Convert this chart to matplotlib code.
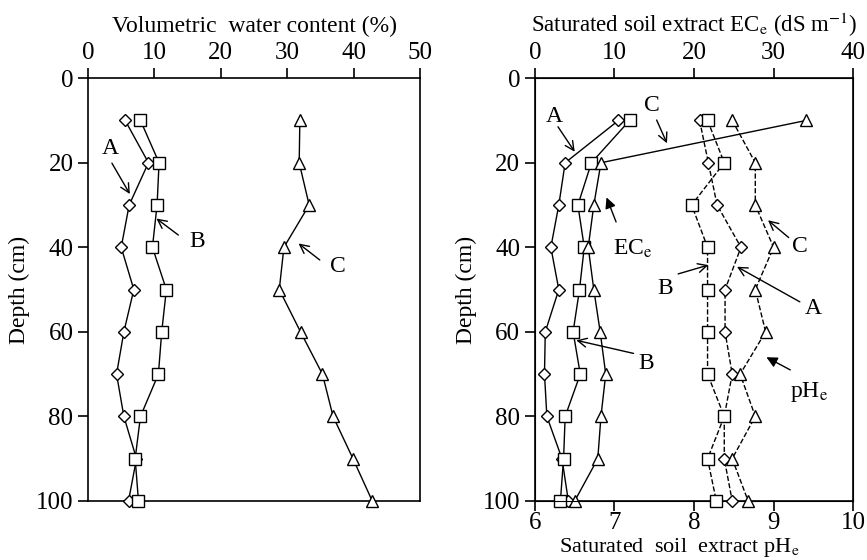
import matplotlib
matplotlib.use('Agg')
import matplotlib.pyplot as plt

plt.rcParams['font.family'] = ['Liberation Serif', 'DejaVu Serif']
plt.rcParams['mathtext.fontset'] = 'stix'
plt.rcParams['font.size'] = 17

depth = [10, 20, 30, 40, 50, 60, 70, 80, 90, 100]

# volumetric water content (%)
vwc_a = [5.6, 9.1, 6.2, 5.0, 6.9, 5.4, 4.3, 5.4, 7.3, 6.1]
vwc_b = [7.9, 10.7, 10.4, 9.7, 11.8, 11.1, 10.6, 7.9, 7.1, 7.6]
vwc_c = [31.9, 31.8, 33.3, 29.5, 28.8, 32.0, 35.3, 36.9, 39.9, 42.8]

# saturated soil extract EC (dS/m)
ec_a = [10.5, 3.8, 3.0, 2.0, 3.0, 1.3, 1.2, 1.5, 3.4, 4.2]
ec_b = [11.9, 7.1, 5.4, 6.2, 5.6, 4.8, 5.7, 3.8, 3.6, 3.2]
ec_c = [34.1, 8.3, 7.4, 6.7, 7.4, 8.2, 8.9, 8.3, 7.9, 5.0]

# saturated soil extract pH
ph_a = [8.07, 8.18, 8.29, 8.59, 8.39, 8.39, 8.48, 8.38, 8.38, 8.48]
ph_b = [8.17, 8.38, 7.97, 8.17, 8.17, 8.17, 8.17, 8.38, 8.17, 8.28]
ph_c = [8.48, 8.77, 8.77, 9.00, 8.77, 8.90, 8.58, 8.77, 8.48, 8.68]

MK = dict(color='black', markerfacecolor='white', markeredgecolor='black',
          linewidth=1.0, markeredgewidth=1.0, clip_on=False, zorder=3)
STYLE = {'A': dict(marker='D', markersize=6.5),
         'B': dict(marker='s', markersize=8.5),
         'C': dict(marker='^', markersize=9)}
FS = 17


def profile(ax, x, key, ls='-'):
    ax.plot(x, depth, linestyle=ls, **STYLE[key], **MK)


def label(ax, text, xytext, tail, head, filled=False):
    ax.text(*xytext, text, ha='center', va='center', fontsize=FS)
    style = '-|>' if filled else '->'
    ax.annotate('', xy=head, xytext=tail,
                arrowprops=dict(arrowstyle=style, color='black', lw=1.0,
                                mutation_scale=16, shrinkA=0, shrinkB=0))


def style_axes(ax):
    for s in ax.spines.values():
        s.set_linewidth(1.2)
    ax.set_ylim(100, 0)
    ax.set_yticks([0, 20, 40, 60, 80, 100])
    ax.set_ylabel('Depth (cm)', fontsize=FS, labelpad=4)
    ax.tick_params(axis='y', direction='out', length=7, width=1.2, labelsize=18)
    ax.tick_params(axis='x', direction='out', length=7, width=1.2, labelsize=18)


fig = plt.figure(figsize=(8.67, 5.6), dpi=100)

# left panel: water content
ax1 = fig.add_axes([0.1015, 0.1054, 0.383, 0.755])
profile(ax1, vwc_a, 'A')
profile(ax1, vwc_b, 'B')
profile(ax1, vwc_c, 'C')
ax1.set_xlim(0, 50)
ax1.set_xticks([0, 10, 20, 30, 40, 50])
ax1.xaxis.set_ticks_position('top')
ax1.xaxis.set_label_position('top')
ax1.set_xlabel('Volumetric  water content (%)', fontsize=FS, labelpad=7)
style_axes(ax1)
label(ax1, 'A', (3.3, 16.7), (3.6, 20.1), (6.3, 27.4))
label(ax1, 'B', (16.4, 38.7), (13.6, 37.1), (10.3, 33.2))
label(ax1, 'C', (37.7, 44.6), (34.9, 43.0), (31.7, 39.1))

# right panel: EC (top) and pH (bottom)
ax2 = fig.add_axes([0.617, 0.1054, 0.367, 0.755])
ax3 = ax2.twiny()
profile(ax2, ec_a, 'A')
profile(ax2, ec_b, 'B')
profile(ax2, ec_c, 'C')
ax2.set_xlim(0, 40)
ax2.set_xticks([0, 10, 20, 30, 40])
ax2.xaxis.set_ticks_position('top')
ax2.xaxis.set_label_position('top')
ax2.set_xlabel(r'Saturated soil extract EC$_\mathrm{e}$ (dS m$^{\mathrm{-1}}$)',
               fontsize=16.5, labelpad=7)
style_axes(ax2)

profile(ax3, ph_a, 'A', ls='--')
profile(ax3, ph_b, 'B', ls='--')
profile(ax3, ph_c, 'C', ls='--')
ax3.set_xlim(6, 10)
ax3.set_xticks([6, 7, 8, 9, 10])
ax3.xaxis.set_ticks_position('bottom')
ax3.xaxis.set_label_position('bottom')
ax3.set_xlabel(r'Saturated  soil  extract pH$_\mathrm{e}$', fontsize=16)
ax3.xaxis.set_label_coords(0.453, -0.083)
ax3.tick_params(axis='x', direction='out', length=7, width=1.2, labelsize=18, pad=1)
ax3.set_ylim(100, 0)

label(ax2, 'A', (2.4, 9.1), (2.9, 11.5), (5.0, 17.4))
label(ax2, 'C', (14.7, 6.4), (15.3, 9.9), (16.6, 15.4))
label(ax2, r'EC$_\mathrm{e}$', (12.3, 40.3), (10.2, 34.0), (9.0, 28.2), filled=True)
label(ax2, 'C', (33.3, 39.9), (31.9, 37.7), (29.3, 33.6))
label(ax2, 'B', (16.4, 49.7), (18.0, 46.3), (21.8, 44.2))
label(ax2, 'A', (35.0, 54.5), (33.3, 52.9), (25.4, 44.6))
label(ax2, 'B', (14.0, 67.5), (12.4, 65.1), (5.2, 62.0))
label(ax2, r'pH$_\mathrm{e}$', (34.5, 74.2), (32.1, 69.0), (29.1, 66.0), filled=True)

fig.savefig('out.png', dpi=100)
